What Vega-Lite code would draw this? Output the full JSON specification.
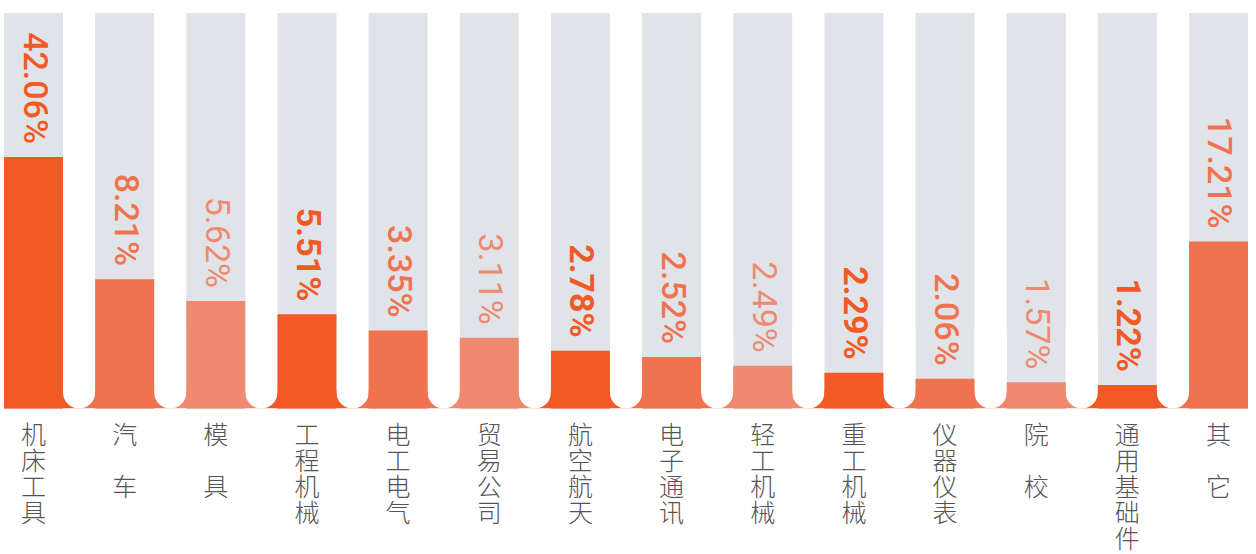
{
  "$schema": "https://vega.github.io/schema/vega-lite/v6.json",
  "autosize": {"type": "none"},
  "width": 1244,
  "height": 395.5,
  "padding": {"left": 4, "top": 13, "right": 8, "bottom": 145.5},
  "background": "white",
  "config": {"view": {"stroke": null}},
  "data": {
    "values": [
      {"cat": "机床工具", "label": "42.06%", "h": 63.6},
      {"cat": "汽车", "label": "8.21%", "h": 32.7},
      {"cat": "模具", "label": "5.62%", "h": 27.2},
      {"cat": "工程机械", "label": "5.51%", "h": 23.8},
      {"cat": "电工电气", "label": "3.35%", "h": 19.7},
      {"cat": "贸易公司", "label": "3.11%", "h": 17.9},
      {"cat": "航空航天", "label": "2.78%", "h": 14.6},
      {"cat": "电子通讯", "label": "2.52%", "h": 13.0},
      {"cat": "轻工机械", "label": "2.49%", "h": 10.8},
      {"cat": "重工机械", "label": "2.29%", "h": 9.05},
      {"cat": "仪器仪表", "label": "2.06%", "h": 7.53},
      {"cat": "院校", "label": "1.57%", "h": 6.62},
      {"cat": "通用基础件", "label": "1.22%", "h": 5.94},
      {"cat": "其它", "label": "17.21%", "h": 42.2}
    ]
  },
  "encoding": {
    "x": {
      "field": "cat", "type": "nominal", "sort": null,
      "scale": {"paddingInner": 0.3527, "paddingOuter": 0},
      "axis": {
        "title": null, "domain": false, "ticks": false, "labelAngle": 0,
        "labelBaseline": "top", "labelAlign": "center", "labelPadding": 15,
        "labelFont": "Noto Sans CJK SC", "labelFontWeight": 300, "labelFontSize": 25,
        "labelLineHeight": {"expr": "length(datum.value) == 2 ? 52 : 26"},
        "labelColor": "#555555", "labelOverlap": false,
        "labelExpr": "split(datum.value, '')"
      }
    }
  },
  "layer": [
    {
      "mark": {"type": "bar", "color": "#E0E3E8"},
      "encoding": {
        "y": {"datum": 100, "type": "quantitative", "scale": {"domain": [0, 100], "nice": false}, "axis": null},
        "y2": {"datum": 0}
      }
    },
    {
      "mark": {"type": "bar", "width": {"band": 1.545}, "clip": true},
      "encoding": {
        "y": {"datum": 4.5, "type": "quantitative"},
        "y2": {"datum": 0},
        "color": {"field": "cat", "type": "nominal", "legend": null, "sort": null,
          "scale": {"domain": ["机床工具","汽车","模具","工程机械","电工电气","贸易公司","航空航天","电子通讯","轻工机械","重工机械","仪器仪表","院校","通用基础件","其它"],
            "range": ["#F15A24","#F07350","#EE8A6F","#F15A24","#F07350","#EE8A6F","#F15A24","#F07350","#EE8A6F","#F15A24","#F07350","#EE8A6F","#F15A24","#F07350"]}}
      }
    },
    {
      "mark": {"type": "bar", "color": "white", "width": 32.15, "xOffset": -45.575, "clip": true,
        "cornerRadiusBottomLeft": 16, "cornerRadiusBottomRight": 16},
      "encoding": {
        "y": {"datum": 20, "type": "quantitative"},
        "y2": {"datum": 0}
      }
    },
    {
      "mark": {"type": "bar"},
      "encoding": {
        "y": {"field": "h", "type": "quantitative"},
        "y2": {"datum": 0},
        "color": {"field": "cat", "type": "nominal", "legend": null, "sort": null}
      }
    },
    {
      "transform": [{"filter": {"field": "cat", "oneOf": ["工程机械","航空航天","重工机械","通用基础件"]}}],
      "mark": {"type": "text", "angle": 90, "align": "right", "baseline": "middle", "dx": -13,
        "font": "Roboto", "fontSize": 34, "fontWeight": "bold"},
      "encoding": {
        "y": {"field": "h", "type": "quantitative"},
        "text": {"field": "label"},
        "color": {"field": "cat", "type": "nominal", "legend": null, "sort": null}
      }
    },
    {
      "transform": [{"filter": {"field": "cat", "oneOf": ["机床工具","汽车","电工电气","电子通讯","仪器仪表","其它"]}}],
      "mark": {"type": "text", "angle": 90, "align": "right", "baseline": "middle", "dx": -13,
        "font": "Roboto", "fontSize": 34, "fontWeight": 500},
      "encoding": {
        "y": {"field": "h", "type": "quantitative"},
        "text": {"field": "label"},
        "color": {"field": "cat", "type": "nominal", "legend": null, "sort": null}
      }
    },
    {
      "transform": [{"filter": {"field": "cat", "oneOf": ["模具","贸易公司","轻工机械","院校"]}}],
      "mark": {"type": "text", "angle": 90, "align": "right", "baseline": "middle", "dx": -13,
        "font": "Roboto", "fontSize": 34, "fontWeight": 400},
      "encoding": {
        "y": {"field": "h", "type": "quantitative"},
        "text": {"field": "label"},
        "color": {"field": "cat", "type": "nominal", "legend": null, "sort": null}
      }
    }
  ]
}
